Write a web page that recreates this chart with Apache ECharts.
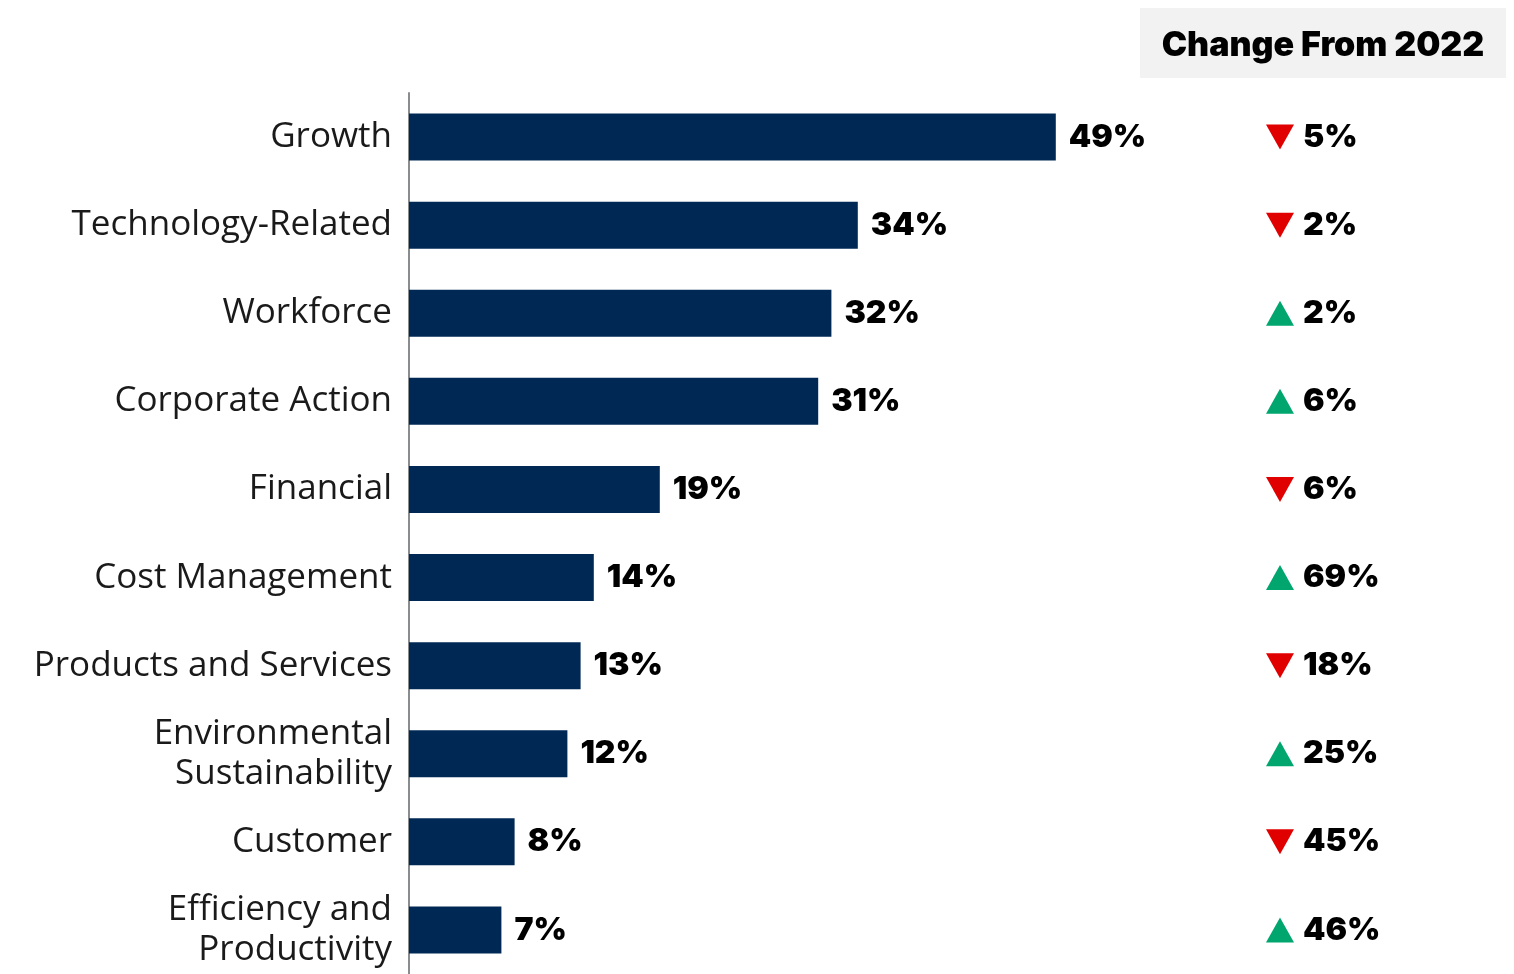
<!DOCTYPE html>
<html>
<head>
<meta charset="utf-8">
<script src="https://cdn.jsdelivr.net/npm/echarts@6/dist/echarts.min.js"></script>
<style>
  html, body { margin: 0; padding: 0; background: #ffffff; }
  #chart { width: 1514px; height: 974px; }
</style>
</head>
<body>
<div id="chart"></div>
<script>
// Share of responses by category, with change from the previous year
const categories = [
  'Growth',
  'Technology-Related',
  'Workforce',
  'Corporate Action',
  'Financial',
  'Cost Management',
  'Products and Services',
  'Environmental\nSustainability',
  'Customer',
  'Efficiency and\nProductivity'
];
const shares = [49, 34, 32, 31, 19, 14, 13, 12, 8, 7];
const changes = [-5, -2, 2, 6, -6, 69, -18, 25, -45, 46];
const changeTitle = 'Change From 2022';

const NAVY = '#002855';
const RED = '#E00000';
const GREEN = '#00A66E';
const LABEL_FONT = '"Open Sans", "Noto Sans", sans-serif';
const BOLD_FONT = 'Inter, Roboto, sans-serif';

const gridTop = 93, gridHeight = 886;

const chart = echarts.init(document.getElementById('chart'), null, { renderer: 'canvas' });

chart.setOption({
  animation: false,
  backgroundColor: '#ffffff',
  grid: [
    { left: 409, top: gridTop, width: 1056, height: gridHeight, containLabel: false },
    { left: 1266, top: gridTop, width: 28, height: gridHeight, containLabel: false }
  ],
  xAxis: [
    { type: 'value', gridIndex: 0, min: 0, max: 80, show: false },
    { type: 'value', gridIndex: 1, min: 0, max: 1, show: false }
  ],
  yAxis: [
    {
      type: 'category', gridIndex: 0, data: categories, inverse: true,
      axisLine: { show: true, lineStyle: { color: '#8a8d90', width: 2 } },
      axisTick: { show: false },
      axisLabel: {
        margin: 17, color: '#1a1a1a', fontFamily: LABEL_FONT,
        fontSize: 35, lineHeight: 40, align: 'right', padding: [6, 0, 0, 0]
      }
    },
    {
      type: 'category', gridIndex: 1, data: categories, inverse: true, show: false
    }
  ],
  graphic: [{
    type: 'group', left: 1140, top: 8,
    children: [
      { type: 'rect', shape: { x: 0, y: 0, width: 366, height: 70 }, style: { fill: '#F2F2F2' } },
      {
        type: 'text', x: 183, y: 38,
        style: {
          text: changeTitle, fill: '#000000', font: '900 34px ' + BOLD_FONT,
          align: 'center', verticalAlign: 'middle'
        }
      }
    ]
  }],
  series: [
    {
      type: 'bar', xAxisIndex: 0, yAxisIndex: 0,
      data: shares, barWidth: 47,
      itemStyle: { color: NAVY },
      label: {
        show: true, position: 'right', distance: 13,
        formatter: p => p.value + '%', padding: [7, 0, 0, 0],
        color: '#000000', fontFamily: BOLD_FONT, fontWeight: 900, fontSize: 32
      }
    },
    {
      type: 'scatter', xAxisIndex: 1, yAxisIndex: 1,
      data: changes.map((v, i) => ({
        value: [0.5, i],
        symbolRotate: v < 0 ? 180 : 0,
        itemStyle: { color: v < 0 ? RED : GREEN, opacity: 1 }
      })),
      symbol: 'triangle', symbolSize: [28, 25],
      label: {
        show: true, position: 'right', distance: 9,
        formatter: p => Math.abs(changes[p.dataIndex]) + '%', padding: [2, 0, 0, 0],
        color: '#000000', fontFamily: BOLD_FONT, fontWeight: 900, fontSize: 32
      }
    }
  ]
});
</script>
</body>
</html>
